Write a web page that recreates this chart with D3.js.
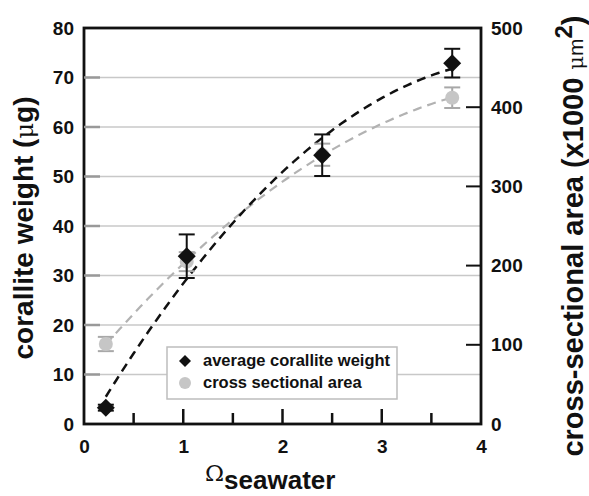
<!DOCTYPE html>
<html><head><meta charset="utf-8">
<script src="https://cdn.jsdelivr.net/npm/d3@7"></script>
<style>
html,body{margin:0;padding:0;background:#fff;}
svg text{font-family:"Liberation Sans",Arial,Helvetica,sans-serif;font-weight:bold;fill:#111;}
</style></head>
<body>
<svg id="chart" width="589" height="496"></svg>
<script>
// ---- data ----
const omega = [0.22, 1.035, 2.4, 3.71];
const corWeight = [3.3, 33.9, 54.3, 72.9];
const corWeightErr = [0.6, 4.4, 4.2, 2.9];
const crossArea = [101, 205, 340, 412];
const crossAreaErr = [9, 12, 14, 13];
const leftTicks = [0, 10, 20, 30, 40, 50, 60, 70, 80];
const rightTicks = [0, 100, 200, 300, 400, 500];
const xTicks = [0, 1, 2, 3, 4];
const xMinorTicks = [0.5, 1.5, 2.5, 3.5];
const legendLabels = ["average corallite weight", "cross sectional area"];

const L = 84, R = 481, T = 28, B = 424;
const svg = d3.select("#chart");
const x = d3.scaleLinear().domain([0, 4]).range([L, R]);
const yL = d3.scaleLinear().domain([0, 80]).range([B, T]);
const yR = d3.scaleLinear().domain([0, 500]).range([B, T]);

// quadratic least-squares fit
function quadFit(xs, ys) {
  const S = (f) => d3.sum(xs.map((xv, i) => f(xv, ys[i])));
  const n = xs.length;
  const A = [[n, S(a => a), S(a => a * a)],
             [S(a => a), S(a => a * a), S(a => a ** 3)],
             [S(a => a * a), S(a => a ** 3), S(a => a ** 4)]];
  const b = [S((a, y) => y), S((a, y) => a * y), S((a, y) => a * a * y)];
  for (let i = 0; i < 3; i++) {
    for (let j = i + 1; j < 3; j++) {
      const f = A[j][i] / A[i][i];
      for (let k = i; k < 3; k++) A[j][k] -= f * A[i][k];
      b[j] -= f * b[i];
    }
  }
  const c = [0, 0, 0];
  for (let i = 2; i >= 0; i--) {
    let s = b[i];
    for (let k = i + 1; k < 3; k++) s -= A[i][k] * c[k];
    c[i] = s / A[i][i];
  }
  return c;
}
const fitW = quadFit(omega, corWeight);
const fitA = quadFit(omega, crossArea);
const fx = d3.range(0, 101).map(i => omega[0] + (omega[3] - omega[0]) * i / 100);

// gridlines
svg.append("g").selectAll("line").data(leftTicks.filter(d => d > 0 && d < 80)).join("line")
  .attr("x1", L).attr("x2", R).attr("y1", d => yL(d)).attr("y2", d => yL(d))
  .attr("stroke", "#c8c8c8").attr("stroke-width", 1.5);

// fit curves
const line = d3.line();
svg.append("path")
  .attr("d", line(fx.map(v => [x(v), yR(fitA[0] + fitA[1] * v + fitA[2] * v * v)])))
  .attr("fill", "none").attr("stroke", "#b2b2b2").attr("stroke-width", 2.2)
  .attr("stroke-dasharray", "9,6");
svg.append("path")
  .attr("d", line(fx.map(v => [x(v), yL(fitW[0] + fitW[1] * v + fitW[2] * v * v)])))
  .attr("fill", "none").attr("stroke", "#111").attr("stroke-width", 2.5)
  .attr("stroke-dasharray", "9,6");

// error bars helper
function errBars(xs, ys, es, scale, color, w) {
  const g = svg.append("g").attr("stroke", color).attr("stroke-width", w);
  xs.forEach((xv, i) => {
    const cx = x(xv), t = scale(ys[i] + es[i]), b = scale(ys[i] - es[i]);
    g.append("line").attr("x1", cx).attr("x2", cx).attr("y1", t).attr("y2", b);
    g.append("line").attr("x1", cx - 8).attr("x2", cx + 8).attr("y1", t).attr("y2", t);
    g.append("line").attr("x1", cx - 8).attr("x2", cx + 8).attr("y1", b).attr("y2", b);
  });
}
errBars(omega, crossArea, crossAreaErr, yR, "#a8a8a8", 2);
svg.append("g").selectAll("circle").data(omega).join("circle")
  .attr("cx", d => x(d)).attr("cy", (d, i) => yR(crossArea[i])).attr("r", 7)
  .attr("fill", "#c6c6c6");
errBars(omega, corWeight, corWeightErr, yL, "#111", 2);
const diamond = (s) => `M0,${-s}L${s},0L0,${s}L${-s},0Z`;
svg.append("g").selectAll("path").data(omega).join("path")
  .attr("d", diamond(9))
  .attr("transform", (d, i) => `translate(${x(d)},${yL(corWeight[i])})`)
  .attr("fill", "#111");

// frame
svg.append("rect").attr("x", L).attr("y", T).attr("width", R - L).attr("height", B - T)
  .attr("fill", "none").attr("stroke", "#111").attr("stroke-width", 2.8);

// left ticks (gray, inside)
svg.append("g").selectAll("line").data(leftTicks.filter(d => d > 0 && d < 80)).join("line")
  .attr("x1", L).attr("x2", L + 16).attr("y1", d => yL(d)).attr("y2", d => yL(d))
  .attr("stroke", "#999").attr("stroke-width", 2.5);
// right ticks (black, inside)
svg.append("g").selectAll("line").data(rightTicks.filter(d => d > 0 && d < 500)).join("line")
  .attr("x1", R - 15).attr("x2", R).attr("y1", d => yR(d)).attr("y2", d => yR(d))
  .attr("stroke", "#111").attr("stroke-width", 2);
// x ticks
svg.append("g").selectAll("line").data(xTicks.filter(d => d > 0 && d < 4)).join("line")
  .attr("x1", d => x(d)).attr("x2", d => x(d)).attr("y1", B - 15).attr("y2", B)
  .attr("stroke", "#111").attr("stroke-width", 2.5);
svg.append("g").selectAll("line").data(xMinorTicks).join("line")
  .attr("x1", d => x(d)).attr("x2", d => x(d)).attr("y1", B - 11).attr("y2", B)
  .attr("stroke", "#111").attr("stroke-width", 2.5);

// axis labels via d3 axes
const axL = svg.append("g").attr("transform", `translate(${L},0)`)
  .call(d3.axisLeft(yL).tickValues(leftTicks).tickSize(0).tickPadding(10));
const axR = svg.append("g").attr("transform", `translate(${R},0)`)
  .call(d3.axisRight(yR).tickValues(rightTicks).tickSize(0).tickPadding(10));
const axB = svg.append("g").attr("transform", `translate(0,${B})`)
  .call(d3.axisBottom(x).tickValues(xTicks).tickFormat(d3.format("d")).tickSize(0).tickPadding(16));
[axL, axR, axB].forEach(a => {
  a.select(".domain").remove();
  a.selectAll("text").attr("font-size", 19).attr("fill", "#111")
    .attr("font-family", "Liberation Sans, Arial, sans-serif").attr("font-weight", "bold");
});

// axis titles
const lt = svg.append("text").attr("transform", "translate(33,228) rotate(-90)")
  .attr("text-anchor", "middle").attr("font-size", 28);
lt.append("tspan").text("corallite weight (");
lt.append("tspan").attr("font-weight", "normal").attr("font-family", "DejaVu Serif, serif").attr("font-size", 24).text("\u03bc");
lt.append("tspan").text("g)");

const rt = svg.append("text").attr("transform", "translate(583,236) rotate(-90)")
  .attr("text-anchor", "middle").attr("font-size", 29);
rt.append("tspan").text("cross-sectional area (x1000 ");
rt.append("tspan").attr("font-weight", "normal").attr("font-family", "DejaVu Serif, serif").attr("font-size", 21).text("\u03bc");
rt.append("tspan").attr("font-weight", "normal").attr("font-size", 21).text("m");
rt.append("tspan").attr("dy", -11).attr("font-size", 24).text("2");
rt.append("tspan").attr("dy", 11).text(")");

const xt = svg.append("text").attr("x", 205).attr("y", 489);
xt.append("tspan").attr("font-family", "DejaVu Serif, serif").attr("font-weight", "normal")
  .attr("font-size", 23).attr("dy", -8).text("\u03a9");
xt.append("tspan").attr("font-size", 26).attr("dy", 8).text("seawater");

// legend
const lg = svg.append("g");
lg.append("rect").attr("x", 167).attr("y", 347).attr("width", 230).attr("height", 52)
  .attr("fill", "#fff").attr("stroke", "#bdbdbd").attr("stroke-width", 1.5);
lg.append("path").attr("d", diamond(6)).attr("transform", "translate(185,361)").attr("fill", "#111");
lg.append("circle").attr("cx", 185).attr("cy", 383).attr("r", 6).attr("fill", "#c6c6c6");
lg.selectAll("text.lg").data(legendLabels).join("text").attr("class", "lg")
  .attr("x", 203).attr("y", (d, i) => 366 + i * 22).attr("font-size", 16.5).text(d => d);
</script>
</body></html>
